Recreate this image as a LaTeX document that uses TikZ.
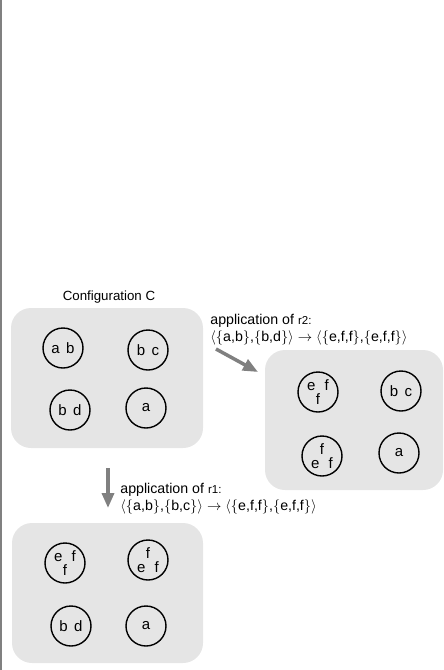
\documentclass[tikz,border=0pt]{standalone}
\usepackage{fontspec}
\setmainfont{Liberation Sans}
\usetikzlibrary{arrows.meta,positioning}

\newcommand{\mgap}{\hspace{6.5pt}}
\newcommand{\wgap}{\hspace{9pt}}

\begin{document}
\begin{tikzpicture}[x=1pt,y=-1pt,thick,
        config/.style={rounded corners=20pt,fill=black!10},
        membrane/.style={circle,draw,line width=1.4pt,minimum size=40pt,inner sep=0pt,
            align=center,font=\fontsize{15}{14.5}\selectfont},
        rule arrow/.style={-{Triangle[length=15pt,width=12pt]},line width=3.5pt,draw=black!50},
        lbl/.style={font=\fontsize{14.2}{15}\selectfont,inner sep=0pt,anchor=base west}]

    \useasboundingbox (0,0) rectangle (444,670);
    \draw[black!50,line width=1.5pt] (0.75,0) -- (0.75,670);

    % configurations
    \fill[config] (11,308) rectangle (203,448);
    \fill[config] (265,350) rectangle (443,490);
    \fill[config] (12,523) rectangle (203,663);

    \node[lbl,anchor=base,font=\fontsize{13.3}{15}\selectfont] (conf) at (109,300) {Configuration C};

    % configuration C
    \node[membrane] (c1) at (63,348) {a\mgap b};
    \node[membrane] (c2) at (148,350) {b\mgap c};
    \node[membrane] (c3) at (70,410) {b\mgap d};
    \node[membrane] (c4) at (146,408) {a};

    % after r2
    \node[membrane] (r1) at (318,392) {e\wgap f\\f};
    \node[membrane] (r2) at (401,391) {b\mgap c};
    \node[membrane] (r3) at (322,456) {f\\e\wgap f};
    \node[membrane] (r4) at (399,453) {a};

    % after r1
    \node[membrane] (b1) at (65,563) {e\wgap f\\f};
    \node[membrane] (b2) at (148,560) {f\\e\wgap f};
    \node[membrane] (b3) at (71,626) {b\mgap d};
    \node[membrane] (b4) at (146,626) {a};

    % rule applications
    \coordinate (s2) at (216,349);
    \coordinate (e2) at (258,372);
    \coordinate (s1) at (108,468);
    \coordinate (e1) at (108,508);
    \draw[rule arrow] (s2) -- (e2);
    \draw[rule arrow] (s1) -- (e1);

    \node[lbl] (t2) at (210,324) {application of {\fontsize{11.5}{12}\selectfont r2:}};
    \node[lbl] (u2) at (210,341) {$\langle\{$a,b$\}$,$\{$b,d$\}\rangle\rightarrow\langle\{$e,f,f$\}$,$\{$e,f,f$\}\rangle$};
    \node[lbl] (t1) at (120,493) {application of {\fontsize{11.5}{12}\selectfont r1:}};
    \node[lbl] (u1) at (120,510) {$\langle\{$a,b$\}$,$\{$b,c$\}\rangle\rightarrow\langle\{$e,f,f$\}$,$\{$e,f,f$\}\rangle$};

\end{tikzpicture}
\end{document}
